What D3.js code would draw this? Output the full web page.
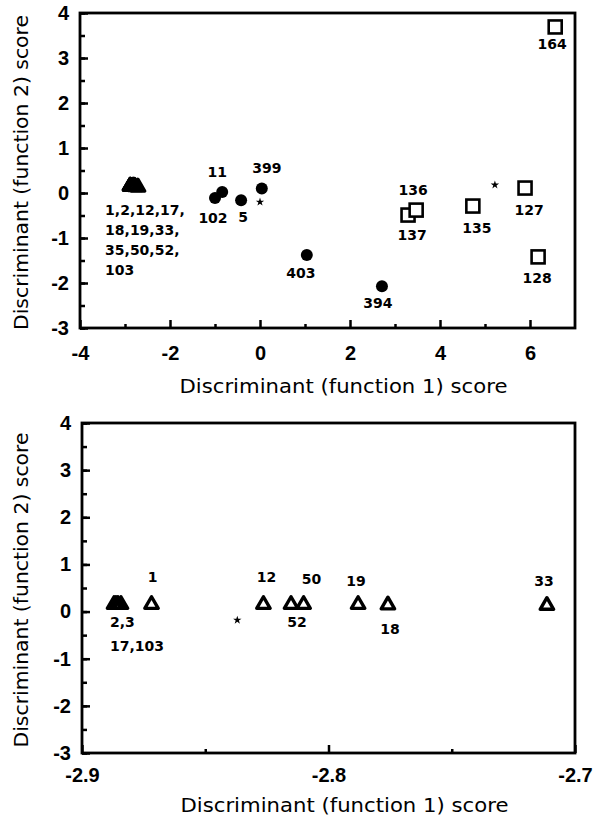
<!DOCTYPE html>
<html>

<head>
  <meta charset="utf-8">
  <title>Discriminant scores</title>
  <script src="https://d3js.org/d3.v7.min.js"></script>
  <style>
    body { margin: 0; background: #fff; }
    text { font-family: "DejaVu Sans", "Liberation Sans", sans-serif; fill: #000; }
    .pt { font-weight: bold; font-size: 14px; }
    .tick text { font-family: "Liberation Sans", Arial, sans-serif; font-weight: bold; font-size: 20px; }
  </style>
</head>

<body>
  <script>
    var width = 595;
    var height = 824;

    // triangles (group 1), shared by both panels
    var triIds = ["2", "3", "17", "103", "1", "12", "52", "50", "19", "18", "33"];
    var triX = [-2.8870, -2.8862, -2.8854, -2.8842, -2.8718, -2.8264, -2.8152, -2.8101, -2.7880, -2.7759, -2.7114];
    var triY = [0.15, 0.15, 0.15, 0.15, 0.15, 0.15, 0.15, 0.15, 0.15, 0.14, 0.13];

    // filled circles (group 2)
    var dotIds = ["102", "11", "5", "399", "403", "394"];
    var dotX = [-1.00, -0.84, -0.42, 0.04, 1.04, 2.71];
    var dotY = [-0.11, 0.02, -0.16, 0.10, -1.38, -2.07];

    // open squares (group 3)
    var sqIds = ["164", "137", "136", "135", "127", "128"];
    var sqX = [6.56, 3.29, 3.47, 4.73, 5.89, 6.18];
    var sqY = [3.69, -0.49, -0.38, -0.29, 0.11, -1.42];

    // group centroids
    var starTopX = [0.00, 5.22];
    var starTopY = [-0.20, 0.18];
    var starBotX = [-2.837];
    var starBotY = [-0.18];

    var yTicks = [-3, -2, -1, 0, 1, 2, 3, 4];
    var xTicksTop = [-4, -2, 0, 2, 4, 6];
    var xTicksBot = [-2.9, -2.8, -2.7];

    var triLabelTop = ["1,2,12,17,", "18,19,33,", "35,50,52,", "103"];
    var triLabelBot = ["2,3", "17,103"];

    // label offsets in px from their mark
    var offTop = {
      "164": [-3, 22], "136": [-3, -15], "137": [4, 25], "135": [4, 27], "127": [4, 27], "128": [-1, 26],
      "403": [-6, 23], "394": [-4, 22], "11": [-5, -15], "399": [5, -16], "102": [-2, 25], "5": [2, 22]
    };
    var offBot = {
      "1": [1, -23], "12": [3, -23], "52": [6, 22], "50": [8, -21], "19": [-2, -19], "18": [2, 29], "33": [-3, -19]
    };

    var svg = d3.select("body").append("svg").attr("width", width).attr("height", height);

    function zip(ids, xs, ys) {
      return ids.map(function (id, i) { return { id: id, x: xs[i], y: ys[i] }; });
    }
    var tris = zip(triIds, triX, triY);
    var dots = zip(dotIds, dotX, dotY);
    var squares = zip(sqIds, sqX, sqY);

    function panel(opt) {
      var x = d3.scaleLinear().domain(opt.xDomain).range([opt.left, opt.right]);
      var y = d3.scaleLinear().domain([-3, 4]).range([opt.bottom, opt.top]);
      var g = svg.append("g");

      // minor ticks
      g.append("g").attr("transform", "translate(0," + opt.bottom + ")")
        .call(d3.axisBottom(x).tickValues(opt.xMinor).tickSize(-4).tickFormat(""));
      g.append("g").attr("transform", "translate(0," + opt.bottom + ")")
        .call(d3.axisBottom(x).tickValues(opt.xMajor).tickSize(-8).tickPadding(opt.xPad).tickFormat(opt.xFormat));
      g.append("g").attr("transform", "translate(" + opt.left + ",0)")
        .call(d3.axisLeft(y).ticks(14).tickSize(-5).tickFormat(""));
      g.append("g").attr("transform", "translate(" + opt.left + ",0)")
        .call(d3.axisLeft(y).tickValues(yTicks).tickSize(-8).tickPadding(11).tickFormat(function (d) { return String(d); }));
      g.selectAll(".domain").remove();
      g.selectAll(".tick line").attr("stroke", "#000").attr("stroke-width", 2.5);
      g.selectAll(".tick text").attr("fill", "#000");

      g.append("rect")
        .attr("x", opt.left).attr("y", opt.top)
        .attr("width", opt.right - opt.left).attr("height", opt.bottom - opt.top)
        .attr("fill", "none").attr("stroke", "#000").attr("stroke-width", 2.8);

      g.append("text")
        .attr("x", (opt.left + opt.right) / 2 + 16).attr("y", opt.xTitleY)
        .attr("text-anchor", "middle").style("font-size", "19px")
        .attr("textLength", 328).attr("lengthAdjust", "spacingAndGlyphs")
        .text("Discriminant (function 1) score");
      g.append("text")
        .attr("transform", "translate(28," + ((opt.top + opt.bottom) / 2 + 2) + ") rotate(-90)")
        .attr("text-anchor", "middle").style("font-size", "19px")
        .attr("textLength", 315).attr("lengthAdjust", "spacingAndGlyphs")
        .text("Discriminant (function 2) score");

      return { g: g, x: x, y: y };
    }

    function drawTris(p, data) {
      p.g.selectAll(".tri").data(data).enter().append("path")
        .attr("class", "tri")
        .attr("d", d3.symbol(d3.symbolTriangle, 78))
        .attr("transform", function (d) { return "translate(" + p.x(d.x) + "," + p.y(d.y) + ")"; })
        .attr("fill", "none").attr("stroke", "#000").attr("stroke-width", 3.4).attr("stroke-linejoin", "round");
    }

    function drawStars(p, xs, ys) {
      p.g.selectAll(".star").data(xs).enter().append("path")
        .attr("class", "star")
        .attr("d", d3.symbol(d3.symbolStar, 22))
        .attr("transform", function (d, i) { return "translate(" + p.x(d) + "," + p.y(ys[i]) + ")"; })
        .attr("fill", "#000");
    }

    function labels(p, data, off) {
      p.g.selectAll(".lab").data(data.filter(function (d) { return off[d.id]; })).enter().append("text")
        .attr("class", "pt")
        .attr("x", function (d) { return p.x(d.x) + off[d.id][0]; })
        .attr("y", function (d) { return p.y(d.y) + off[d.id][1]; })
        .attr("text-anchor", "middle")
        .text(function (d) { return d.id; });
    }

    // ---- top panel
    var pTop = panel({
      xDomain: [-4, 7], left: 80, right: 575, top: 13, bottom: 328,
      xMajor: xTicksTop, xMinor: [-3, -1, 1, 3, 5], xPad: 18, xFormat: function (d) { return String(d); }, xTitleY: 393
    });
    drawStars(pTop, starTopX, starTopY);
    drawTris(pTop, tris);
    pTop.g.selectAll(".dot").data(dots).enter().append("circle")
      .attr("cx", function (d) { return pTop.x(d.x); })
      .attr("cy", function (d) { return pTop.y(d.y); })
      .attr("r", 6).attr("fill", "#000");
    pTop.g.selectAll(".sq").data(squares).enter().append("rect")
      .attr("x", function (d) { return pTop.x(d.x) - 6.5; })
      .attr("y", function (d) { return pTop.y(d.y) - 6.5; })
      .attr("width", 13).attr("height", 13)
      .attr("fill", "#fff").attr("stroke", "#000").attr("stroke-width", 2.6);
    labels(pTop, dots.concat(squares), offTop);
    pTop.g.selectAll(".tl").data(triLabelTop).enter().append("text")
      .attr("class", "pt")
      .attr("x", pTop.x(triX[0]) - 25)
      .attr("y", function (d, i) { return pTop.y(triY[0]) + 29 + i * 20; })
      .text(function (d) { return d; });

    // ---- bottom panel
    var pBot = panel({
      xDomain: [-2.9, -2.7], left: 82, right: 575, top: 423, bottom: 753,
      xMajor: xTicksBot, xMinor: [-2.85, -2.75], xPad: 15, xFormat: function (d) { return d.toFixed(1); }, xTitleY: 812
    });
    drawStars(pBot, starBotX, starBotY);
    drawTris(pBot, tris);
    labels(pBot, tris, offBot);
    pBot.g.selectAll(".bl").data(triLabelBot).enter().append("text")
      .attr("class", "pt")
      .attr("x", pBot.x(triX[0]) - 4)
      .attr("y", function (d, i) { return pBot.y(triY[0]) + 22 + i * 24; })
      .text(function (d) { return d; });
  </script>
</body>

</html>
